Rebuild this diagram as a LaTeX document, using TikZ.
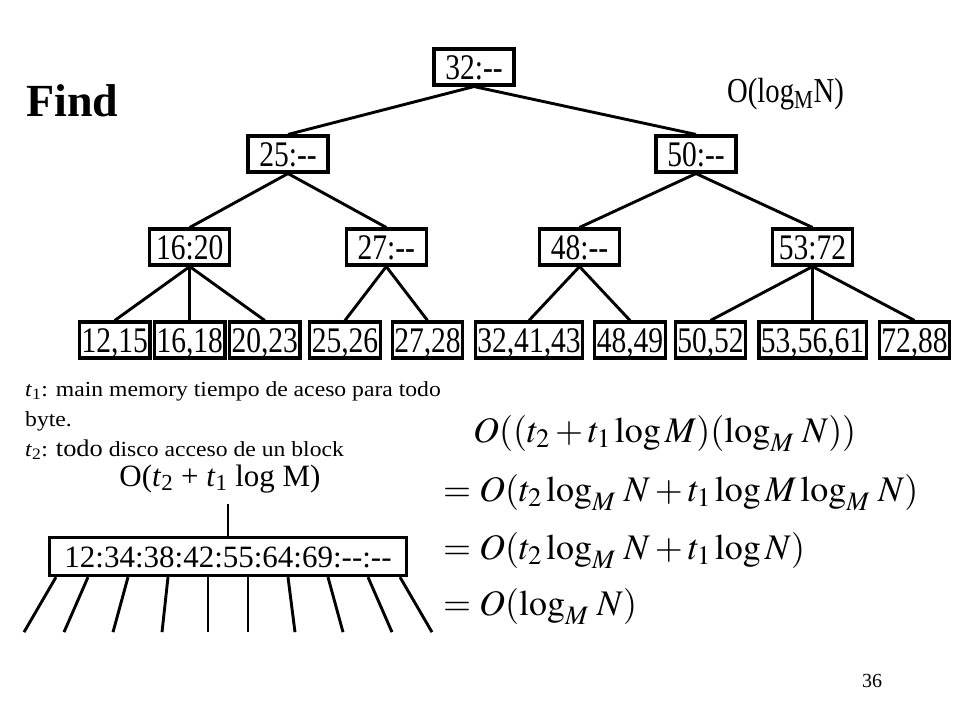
\documentclass[tikz,border=0pt]{standalone}
\usepackage{mathptmx}
\usepackage{fontspec}
\setmainfont{Liberation Serif}
\newfontfamily\treefont[FakeStretch = 0.82]{Liberation Serif}
\newfontfamily\notefont[FakeStretch = 1.1]{Liberation Serif}

\begin{document}
\begin{tikzpicture}[x = 1bp, y = -1bp, grow = down,
    level 1/.style = {level distance = 87bp, sibling distance = 408bp},
    level 2/.style = {level distance = 93bp},
    level 3/.style = {level distance = 93bp, sibling distance = 75bp},
    edge from parent/.style = {draw, line width = 2.9bp},
    parent anchor = south, child anchor = north,
    box/.style = {draw, line width = 3.3bp, minimum width = 80bp, inner xsep = 2bp,
        inner ysep = 5.4bp, text height = 25bp, text depth = 0bp,
        font = \treefont\fontsize{36bp}{40bp}\selectfont},
    leaf/.style = {box, minimum width = 0bp},
    note/.style = {anchor = base west, inner sep = 0bp,
        font = \notefont\fontsize{21.5bp}{26bp}\selectfont},
    eqn/.style = {anchor = base west, inner sep = 0bp,
        font = \fontsize{36bp}{42bp}\selectfont}]
    \useasboundingbox (0, 0) rectangle (960, 720);

    \node[box] (root) at (474, 67) {32:-{}-}
        child[xshift = 18bp]{ node[box] (n25) {25:-{}-}
            child[sibling distance = 196.5bp]{ node[box] (n16) {16:20}
                child{ node[leaf] (l1) {12,15} }
                child{ node[leaf] (l2) {16,18} }
                child{ node[leaf] (l3) {20,23} }}
            child[sibling distance = 196.5bp]{ node[box] (n27) {27:-{}-}
                child[sibling distance = 82.5bp]{ node[leaf] (l4) {25,26} }
                child[sibling distance = 82.5bp]{ node[leaf] (l5) {27,28} }}}
        child[xshift = 18bp]{ node[box] (n50) {50:-{}-}
            child[sibling distance = 233bp]{ node[box] (n48) {48:-{}-}
                child[sibling distance = 101bp]{ node[leaf] (l6) {32,41,43} }
                child[sibling distance = 101bp]{ node[leaf] (l7) {48,49} }}
            child[sibling distance = 233bp]{ node[box] (n53) {53:72}
                child[sibling distance = 102bp]{ node[leaf] (l8) {50,52} }
                child[sibling distance = 102bp]{ node[leaf] (l9) {53,56,61} }
                child[sibling distance = 102bp]{ node[leaf] (l10) {72,88} }}};

    \node[anchor = base west, inner sep = 0bp,
        font = \bfseries\fontsize{46bp}{50bp}\selectfont] (find) at (26, 117) {Find};
    \node[anchor = base west, inner sep = 0bp,
        font = \treefont\fontsize{35bp}{40bp}\selectfont] (height) at (727, 103)
        {O(log\textsubscript{M}N)};

    % costs of one block
    \node[note] (t1) at (25, 396) {\textit{t}\textsubscript{1}: main memory tiempo de aceso para todo};
    \node[note] (byte) at (25, 426) {byte.};
    \node[note] (t2) at (25, 456)
        {\textit{t}\textsubscript{2}: {\fontsize{24bp}{28bp}\selectfont todo} disco acceso de un block};
    \node[anchor = base, font = \fontsize{31bp}{36bp}\selectfont] (cost) at (220, 486)
        {O(\textit{t}\textsubscript{2} + \textit{t}\textsubscript{1} log M)};
    \node[box, minimum width = 0bp, inner xsep = 15bp, inner ysep = 8.5bp, text height = 21bp,
        font = \fontsize{31bp}{36bp}\selectfont] (blk) at (228, 556.5)
        {12:34:38:42:55:64:69:-{}-:-{}-};
    \draw[line width = 2.9bp] ([yshift = -8bp]cost.south -| blk.north) -- (blk.north);
    \foreach \t/\b [count = \i] in {-172/-204, -140/-164, -100/-115, -60/-66, -20/-20,
        20/20, 60/67, 100/115, 140/164, 172/204}{
        \coordinate (end\i) at ([xshift = \b bp, yshift = -55bp]blk.south);
        \draw[line width = 2.9bp] ([xshift = \t bp]blk.south) -- (end\i);}

    % total cost
    \node[eqn] (eq1) at (473, 442) {$O((t_2 + t_1 \log M)(\log_M\, N))$};
    \node[eqn] (eq2) at (443, 501) {$= O(t_2 \log_M\, N + t_1 \log M \log_M\, N)$};
    \node[eqn] (eq3) at (443, 559) {$= O(t_2 \log_M\, N + t_1 \log N)$};
    \node[eqn] (eq4) at (443, 615) {$= O(\log_M\, N)$};

    \node[anchor = base west, inner sep = 0bp, font = \fontsize{20bp}{24bp}\selectfont] (page)
        at (862, 687) {36};
\end{tikzpicture}
\end{document}
